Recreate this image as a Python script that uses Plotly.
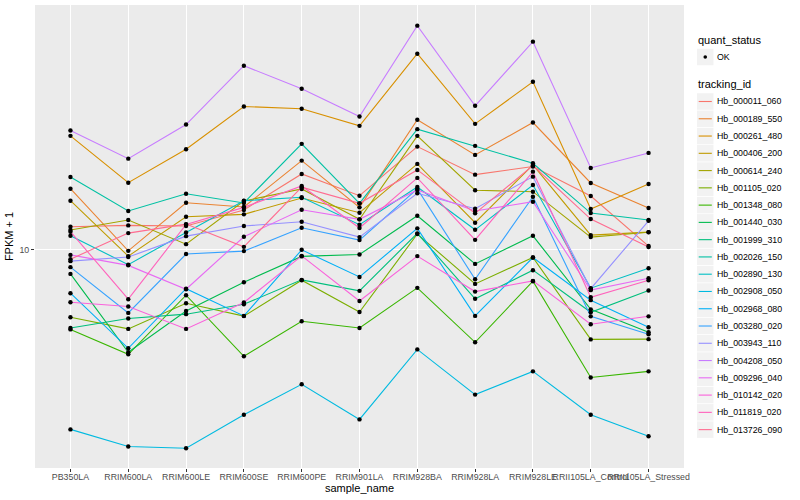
import plotly.graph_objects as go

samples = ["PB350LA", "RRIM600LA", "RRIM600LE", "RRIM600SE", "RRIM600PE", "RRIM901LA",
           "RRIM928BA", "RRIM928LA", "RRIM928LE", "RRII105LA_Control", "RRII105LA_Stressed"]

tracking_ids = ["Hb_000011_060", "Hb_000189_550", "Hb_000261_480", "Hb_000406_200", "Hb_000614_240",
                "Hb_001105_020", "Hb_001348_080", "Hb_001440_030", "Hb_001999_310", "Hb_002026_150",
                "Hb_002890_130", "Hb_002908_050", "Hb_002968_080", "Hb_003280_020", "Hb_003943_110",
                "Hb_004208_050", "Hb_009296_040", "Hb_010142_020", "Hb_011819_020", "Hb_013726_090"]

colors = ["#F8766D", "#EA8331", "#D89000", "#C09B00", "#A3A500", "#7CAE00", "#39B600", "#00BB4E",
          "#00BF7D", "#00C1A3", "#00BFC4", "#00BAE0", "#00B0F6", "#35A2FF", "#9590FF", "#C77CFF",
          "#E76BF3", "#FA62DB", "#FF62BC", "#FF6C91"]

quant_status = ["OK"]

# FPKM + 1 per tracking id, in sample order
Hb_000011_060 = [11.90, 12.02, 11.96, 13.52, 17.82, 15.09, 21.98, 17.73, 18.86, 15.05, 10.26]
Hb_000189_550 = [15.92, 9.89, 14.30, 13.84, 19.74, 13.80, 26.98, 20.62, 26.42, 16.63, 13.73]
Hb_000261_480 = [23.86, 16.67, 21.54, 29.88, 29.36, 25.76, 44.77, 26.16, 36.11, 13.63, 16.51]
Hb_000406_200 = [14.52, 9.50, 12.84, 13.08, 14.83, 13.24, 19.25, 12.27, 19.10, 11.16, 11.42]
Hb_000614_240 = [11.60, 12.52, 10.41, 14.49, 15.89, 12.59, 23.86, 15.73, 15.56, 10.99, 11.40]
Hb_001105_020 = [5.95, 5.44, 6.62, 6.00, 7.90, 6.19, 11.25, 7.68, 9.40, 5.02, 5.03]
Hb_001348_080 = [5.42, 4.48, 7.04, 4.41, 5.77, 5.48, 7.45, 4.91, 7.84, 3.75, 3.93]
Hb_001440_030 = [8.29, 4.55, 6.24, 7.78, 9.48, 9.62, 12.94, 8.95, 11.10, 6.32, 5.30]
Hb_001999_310 = [5.48, 5.89, 6.09, 6.57, 7.92, 7.28, 11.31, 6.85, 8.53, 6.18, 7.30]
Hb_002026_150 = [17.42, 13.42, 15.32, 14.27, 22.44, 14.23, 25.12, 22.10, 19.35, 13.21, 12.52]
Hb_002890_130 = [11.10, 8.90, 11.39, 14.52, 14.91, 12.08, 16.13, 11.62, 16.38, 7.43, 8.66]
Hb_002908_050 = [2.52, 2.21, 2.18, 2.82, 3.56, 2.72, 4.65, 3.29, 3.93, 2.82, 2.39]
Hb_002968_080 = [7.15, 4.69, 7.40, 6.01, 9.97, 8.10, 11.75, 6.01, 9.40, 6.78, 5.51]
Hb_003280_020 = [8.73, 6.15, 9.65, 9.87, 11.80, 10.74, 15.89, 7.96, 14.97, 5.99, 5.22]
Hb_003943_110 = [9.14, 9.43, 11.07, 11.96, 12.36, 10.99, 15.37, 13.66, 17.46, 7.40, 12.45]
Hb_004208_050 = [24.85, 20.04, 26.02, 40.83, 34.22, 27.67, 55.49, 30.04, 49.09, 18.66, 20.94]
Hb_009296_040 = [9.59, 8.85, 7.37, 11.02, 13.55, 12.59, 15.77, 13.42, 14.41, 7.32, 8.02]
Hb_010142_020 = [6.67, 6.46, 5.44, 6.66, 9.52, 6.74, 9.50, 7.24, 7.86, 5.64, 5.99]
Hb_011819_020 = [11.45, 6.83, 12.10, 13.80, 16.26, 11.78, 17.29, 10.76, 18.14, 6.93, 7.90]
Hb_013726_090 = [9.28, 11.33, 12.14, 10.20, 16.10, 14.23, 18.38, 13.18, 19.00, 12.62, 10.18]

series = [Hb_000011_060, Hb_000189_550, Hb_000261_480, Hb_000406_200, Hb_000614_240,
          Hb_001105_020, Hb_001348_080, Hb_001440_030, Hb_001999_310, Hb_002026_150,
          Hb_002890_130, Hb_002908_050, Hb_002968_080, Hb_003280_020, Hb_003943_110,
          Hb_004208_050, Hb_009296_040, Hb_010142_020, Hb_011819_020, Hb_013726_090]

# figure geometry (pixels)
W, H = 800, 500
ML, MR, MT, MB = 35, 116, 5, 32
PW, PH = W - ML - MR, H - MT - MB

def px(xp):
    return (xp - ML) / PW

def py(yp):
    return (H - MB - yp) / PH

fig = go.Figure()

for tid, vals, col in zip(tracking_ids, series, colors):
    fig.add_trace(go.Scatter(
        x=samples, y=vals, mode="lines", name=tid,
        line=dict(color=col, width=1.1), showlegend=False,
    ))

all_x = [s for _ in series for s in samples]
all_y = [v for vals in series for v in vals]
fig.add_trace(go.Scatter(
    x=all_x, y=all_y, mode="markers", name=quant_status[0],
    marker=dict(color="black", size=4.4, symbol="circle"),
    showlegend=False, hoverinfo="skip",
))

# ggplot-style legend
shapes = []
annotations = []
LX = 697          # legend key left edge
KEY = 16.5        # key size
annotations.append(dict(x=px(LX - 1), y=py(40), xref="paper", yref="paper", text="quant_status",
                        showarrow=False, xanchor="left", yanchor="middle",
                        font=dict(size=11, color="black")))
shapes.append(dict(type="rect", xref="paper", yref="paper", x0=px(LX), x1=px(LX + KEY),
                   y0=py(57 - KEY / 2), y1=py(57 + KEY / 2), fillcolor="#F2F2F2",
                   line=dict(width=0), layer="above"))
shapes.append(dict(type="circle", xref="paper", yref="paper", x0=px(LX + KEY / 2 - 1.8),
                   x1=px(LX + KEY / 2 + 1.8), y0=py(57 - 1.8), y1=py(57 + 1.8),
                   fillcolor="black", line=dict(width=0), layer="above"))
annotations.append(dict(x=px(715), y=py(57), xref="paper", yref="paper", text=quant_status[0],
                        showarrow=False, xanchor="left", yanchor="middle",
                        font=dict(size=8.8, color="black")))
annotations.append(dict(x=px(LX - 1), y=py(84), xref="paper", yref="paper", text="tracking_id",
                        showarrow=False, xanchor="left", yanchor="middle",
                        font=dict(size=11, color="black")))
STEP = 17.27
for i, (tid, col) in enumerate(zip(tracking_ids, colors)):
    yc = 101.5 + i * STEP
    shapes.append(dict(type="rect", xref="paper", yref="paper", x0=px(LX), x1=px(LX + KEY),
                       y0=py(yc - KEY / 2), y1=py(yc + KEY / 2), fillcolor="#F2F2F2",
                       line=dict(width=0), layer="above"))
    shapes.append(dict(type="line", xref="paper", yref="paper", x0=px(LX + 1.7), x1=px(LX + KEY - 1.7),
                       y0=py(yc), y1=py(yc), line=dict(color=col, width=1.1), layer="above"))
    annotations.append(dict(x=px(715), y=py(yc), xref="paper", yref="paper", text=tid,
                            showarrow=False, xanchor="left", yanchor="middle",
                            font=dict(size=8.8, color="black")))

fig.update_layout(
    width=W, height=H,
    margin=dict(l=ML, r=MR, t=MT, b=MB, autoexpand=False),
    paper_bgcolor="white", plot_bgcolor="#EBEBEB",
    font=dict(family="Liberation Sans, Arial, sans-serif", color="black"),
    showlegend=False,
    shapes=shapes, annotations=annotations,
)

fig.update_xaxes(
    type="category", categoryorder="array", categoryarray=samples,
    showgrid=True, gridcolor="white", gridwidth=1.1,
    ticks="outside", ticklen=3, tickcolor="#333333", tickangle=0,
    ticklabelstandoff=-3,
    tickfont=dict(size=8.8, color="#4D4D4D"),
    title=dict(text="sample_name", font=dict(size=11), standoff=1),
    zeroline=False, showline=False, automargin=False,
)

fig.update_yaxes(
    type="log", range=[0.2730, 1.8129],
    tickvals=[10], ticktext=["10"],
    showgrid=True, gridcolor="white", gridwidth=1.1,
    ticks="outside", ticklen=3, tickcolor="#333333",
    tickfont=dict(size=8.8, color="#4D4D4D"),
    title=dict(text="FPKM + 1", font=dict(size=11), standoff=3),
    zeroline=False, showline=False, automargin=False,
)

fig.write_html("out.html",
               config={"displayModeBar": False},
               post_script="document.body.style.margin='0';document.body.style.padding='0';")
